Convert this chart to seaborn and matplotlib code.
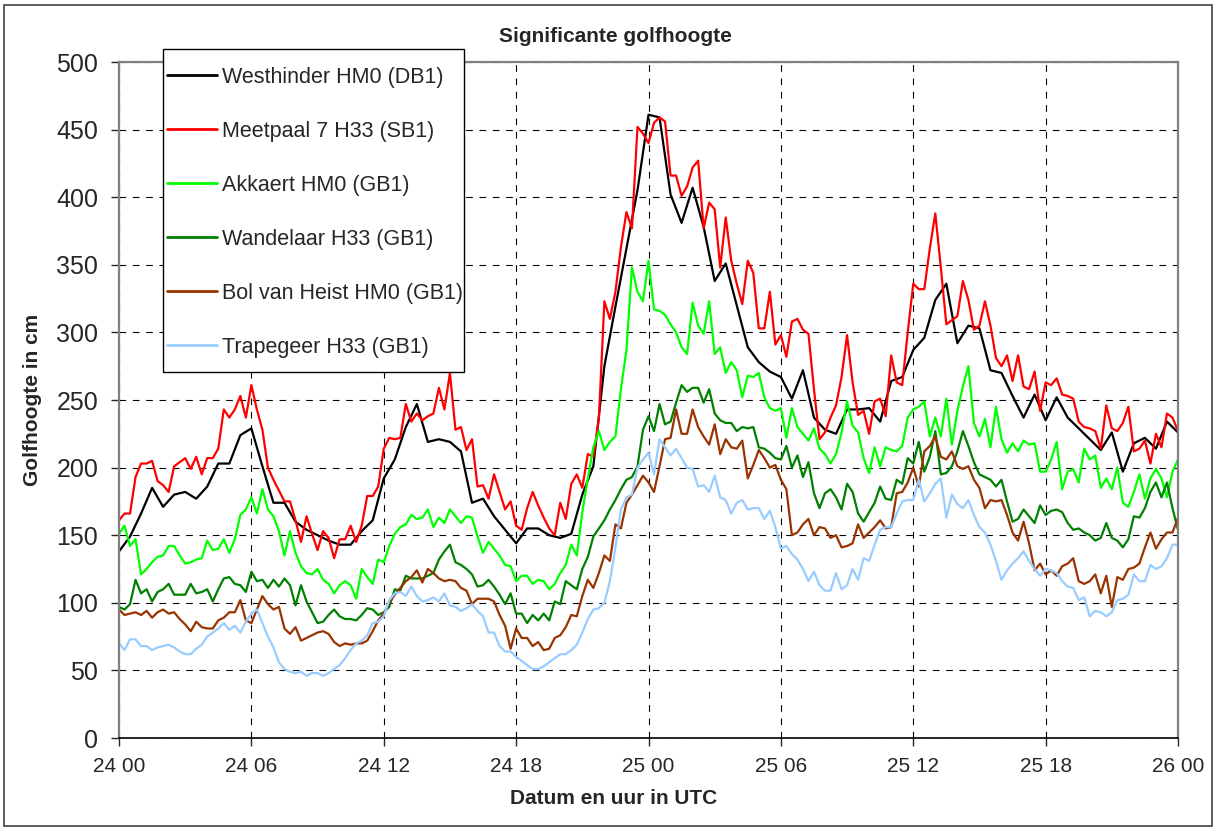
import numpy as np
import pandas as pd
import matplotlib
matplotlib.use("Agg")
import matplotlib.pyplot as plt
import seaborn as sns
from matplotlib.lines import Line2D
from matplotlib.patches import Rectangle

# tijd in uren vanaf 24 00 UTC
uur_halfuur = np.arange(0, 48.01, 0.5)
uur_kwartier = np.arange(0, 48.01, 0.25)

# Westhinder: halfuurwaarden
westhinder = [138, 149, 166, 185, 171, 180, 182, 177, 186, 203,
              203, 224, 229, 201, 174, 174, 160, 154, 150, 146,
              143, 143, 153, 161, 192, 206, 230, 247, 219, 221,
              219, 212, 174, 177, 164, 154, 144, 155, 155, 150,
              148, 151, 180, 201, 275, 319, 362, 405, 461, 459,
              402, 381, 407, 378, 338, 351, 320, 289, 278, 271,
              267, 251, 272, 237, 228, 225, 243, 243, 244, 234,
              264, 267, 287, 296, 324, 336, 292, 305, 303, 272,
              270, 253, 237, 254, 235, 252, 237, 229, 221, 213,
              226, 197, 218, 222, 214, 234, 226]

# overige stations: kwartierwaarden
meetpaal7 = [161, 166, 166, 193, 203, 203, 205, 190,
             187, 182, 201, 204, 207, 199, 208, 195,
             207, 207, 214, 243, 237, 243, 253, 237,
             261, 243, 228, 200, 191, 183, 175, 175,
             161, 145, 164, 151, 139, 153, 148, 133,
             147, 147, 157, 145, 157, 179, 179, 186,
             214, 222, 221, 222, 247, 234, 240, 235,
             238, 240, 259, 243, 270, 228, 230, 213,
             221, 186, 187, 177, 195, 182, 169, 175,
             157, 154, 170, 182, 172, 163, 155, 150,
             174, 162, 188, 195, 185, 210, 208, 236,
             323, 310, 330, 363, 389, 377, 452, 447,
             440, 455, 459, 456, 416, 416, 401, 408,
             422, 427, 377, 396, 391, 348, 385, 353,
             336, 321, 353, 344, 303, 303, 330, 291,
             298, 282, 308, 310, 302, 299, 258, 221,
             226, 237, 246, 267, 298, 263, 239, 242,
             225, 249, 251, 238, 283, 263, 261, 300,
             336, 332, 332, 362, 388, 348, 306, 309,
             312, 338, 324, 302, 305, 323, 305, 281,
             275, 283, 264, 283, 260, 258, 271, 242,
             263, 261, 266, 254, 253, 251, 234, 230,
             229, 227, 214, 246, 229, 227, 233, 245,
             212, 214, 220, 203, 225, 215, 240, 237,
             227]

akkaert = [151, 157, 142, 147, 121, 125, 130, 134,
           135, 142, 142, 135, 129, 130, 132, 133,
           146, 139, 140, 147, 137, 147, 165, 169,
           178, 166, 184, 169, 164, 153, 135, 153,
           137, 127, 122, 121, 125, 117, 114, 107,
           113, 116, 113, 103, 125, 119, 114, 132,
           130, 142, 151, 156, 158, 165, 162, 163,
           169, 156, 163, 159, 169, 164, 159, 164,
           163, 149, 137, 145, 140, 135, 128, 127,
           116, 120, 120, 114, 117, 116, 110, 114,
           122, 128, 143, 135, 167, 192, 215, 227,
           213, 219, 223, 258, 287, 348, 330, 323,
           353, 317, 316, 313, 306, 300, 289, 284,
           322, 305, 299, 323, 284, 289, 270, 278,
           272, 252, 268, 267, 270, 252, 244, 242,
           244, 222, 244, 230, 225, 220, 229, 214,
           210, 203, 210, 226, 249, 231, 226, 207,
           196, 215, 201, 215, 213, 212, 216, 237,
           243, 245, 249, 223, 237, 223, 251, 217,
           242, 260, 275, 233, 223, 236, 215, 245,
           221, 211, 218, 212, 220, 217, 218, 197,
           197, 206, 219, 184, 197, 199, 189, 214,
           206, 209, 185, 192, 184, 200, 174, 171,
           182, 195, 177, 192, 199, 192, 178, 197,
           206]

wandelaar = [97, 95, 99, 117, 107, 110, 101, 108,
             110, 114, 106, 106, 106, 114, 107, 108,
             110, 101, 110, 118, 119, 114, 113, 108,
             123, 116, 117, 111, 117, 112, 118, 113,
             98, 113, 101, 93, 85, 86, 91, 95,
             90, 88, 88, 87, 91, 96, 95, 91,
             93, 97, 110, 109, 120, 118, 118, 118,
             120, 122, 132, 138, 143, 130, 128, 125,
             121, 112, 113, 117, 112, 106, 99, 107,
             92, 92, 85, 91, 87, 92, 87, 101,
             99, 116, 113, 110, 125, 134, 149, 155,
             161, 169, 176, 184, 191, 193, 201, 228,
             238, 227, 247, 232, 234, 248, 261, 256,
             259, 259, 248, 258, 240, 235, 233, 233,
             227, 230, 229, 230, 215, 214, 211, 207,
             206, 216, 200, 209, 193, 204, 181, 170,
             181, 184, 178, 169, 188, 182, 166, 160,
             167, 174, 186, 177, 176, 191, 188, 207,
             203, 219, 197, 208, 227, 195, 196, 201,
             212, 227, 216, 204, 195, 193, 191, 186,
             191, 175, 160, 162, 169, 164, 159, 172,
             165, 168, 169, 167, 159, 154, 155, 152,
             150, 146, 148, 159, 148, 146, 141, 147,
             164, 163, 170, 182, 189, 178, 189, 170,
             154]

bol_van_heist = [95, 91, 92, 93, 91, 94, 89, 93,
                 95, 92, 93, 88, 84, 79, 86, 82,
                 81, 81, 87, 89, 93, 93, 102, 87,
                 85, 95, 105, 99, 95, 97, 81, 77,
                 82, 72, 74, 76, 78, 79, 77, 71,
                 68, 70, 69, 70, 70, 72, 79, 87,
                 92, 100, 106, 111, 116, 119, 124, 115,
                 125, 122, 118, 116, 117, 116, 111, 109,
                 99, 103, 103, 103, 101, 91, 83, 66,
                 81, 74, 74, 68, 71, 65, 66, 74,
                 76, 82, 91, 90, 105, 117, 111, 122,
                 135, 131, 158, 155, 174, 180, 187, 194,
                 189, 182, 201, 221, 222, 243, 225, 225,
                 243, 230, 223, 217, 232, 210, 221, 215,
                 214, 220, 192, 202, 213, 207, 200, 202,
                 191, 184, 150, 152, 158, 162, 150, 156,
                 155, 148, 150, 141, 142, 144, 158, 148,
                 152, 156, 161, 155, 156, 181, 182, 189,
                 200, 186, 212, 216, 223, 208, 206, 212,
                 201, 199, 201, 191, 185, 170, 176, 175,
                 176, 165, 152, 146, 160, 144, 124, 129,
                 121, 124, 120, 127, 129, 133, 116, 114,
                 116, 121, 107, 120, 97, 119, 117, 125,
                 126, 129, 141, 152, 140, 147, 152, 152,
                 163]

trapegeer = [70, 65, 73, 73, 68, 68, 65, 67,
             68, 69, 67, 64, 62, 62, 66, 69,
             75, 78, 81, 85, 80, 83, 78, 86,
             92, 95, 85, 75, 67, 56, 51, 49,
             48, 49, 46, 48, 48, 46, 48, 51,
             54, 59, 65, 70, 72, 76, 85, 86,
             90, 102, 107, 108, 105, 112, 105, 101,
             102, 104, 101, 107, 98, 97, 94, 96,
             99, 94, 90, 78, 78, 68, 64, 64,
             60, 57, 54, 51, 51, 53, 56, 59,
             62, 62, 65, 69, 78, 88, 95, 96,
             100, 116, 141, 169, 178, 180, 200, 206,
             211, 195, 221, 215, 209, 214, 207, 200,
             199, 186, 187, 182, 194, 178, 176, 166,
             174, 176, 169, 170, 170, 162, 168, 156,
             140, 142, 136, 132, 125, 116, 123, 113,
             109, 109, 122, 110, 113, 125, 117, 133,
             131, 143, 154, 156, 156, 166, 175, 176,
             176, 191, 175, 181, 188, 192, 163, 180,
             173, 170, 176, 165, 156, 152, 143, 131,
             117, 124, 129, 133, 138, 131, 125, 120,
             125, 124, 122, 116, 112, 111, 102, 104,
             90, 94, 93, 90, 93, 102, 103, 106,
             121, 116, 116, 128, 125, 127, 133, 143,
             143]

reeksen = ["Westhinder HM0 (DB1)", "Meetpaal 7 H33 (SB1)", "Akkaert HM0 (GB1)",
           "Wandelaar H33 (GB1)", "Bol van Heist HM0 (GB1)", "Trapegeer H33 (GB1)"]
kleuren = ["#000000", "#FF0000", "#00FF00", "#008000", "#993300", "#99CCFF"]
x_ticks = [0, 6, 12, 18, 24, 30, 36, 42, 48]
x_labels = ["24 00", "24 06", "24 12", "24 18", "25 00", "25 06", "25 12", "25 18", "26 00"]

frames = [pd.DataFrame({"uur": uur_halfuur, "cm": westhinder, "reeks": reeksen[0]})]
for naam, waarden in zip(reeksen[1:], [meetpaal7, akkaert, wandelaar, bol_van_heist, trapegeer]):
    frames.append(pd.DataFrame({"uur": uur_kwartier, "cm": waarden, "reeks": naam}))
df = pd.concat(frames, ignore_index=True)

sns.set_style("white")
plt.rcParams["font.family"] = ["Liberation Sans", "DejaVu Sans"]

W, H = 1216, 827
fig = plt.figure(figsize=(W / 100, H / 100), dpi=100)
ax = fig.add_axes([119 / W, (H - 738) / H, 1059 / W, 676 / H])

sns.lineplot(data=df, x="uur", y="cm", hue="reeks", hue_order=reeksen,
             palette=kleuren, estimator=None, sort=False, linewidth=1.6,
             legend=False, ax=ax)

ax.set_xlim(0, 48)
ax.set_ylim(0, 500)
ax.set_xticks(x_ticks)
ax.set_xticklabels(x_labels, fontsize=15)
ax.set_yticks(range(0, 501, 50))
ax.tick_params(axis="y", labelsize=18, length=6, width=1, direction="out", left=True, pad=9)
ax.tick_params(axis="x", length=6, width=1, direction="out", bottom=True, pad=8)
ax.grid(True, color="black", linestyle=(0, (6, 6)), linewidth=0.8)
ax.set_xlabel("")
ax.set_ylabel("")
for side in ["top", "right", "left"]:
    ax.spines[side].set_color("#808080")
    ax.spines[side].set_linewidth(1.6)
ax.spines["bottom"].set_color("black")
ax.spines["bottom"].set_linewidth(1.2)

fig.text(615 / W, 1 - 36 / H, "Significante golfhoogte", ha="center", va="center",
         fontsize=15, fontweight="bold")
fig.text(614 / W, 1 - 799 / H, "Datum en uur in UTC", ha="center", va="center",
         fontsize=15, fontweight="bold")
fig.text(33 / W, 1 - 400 / H, "Golfhoogte in cm", ha="center", va="center",
         rotation=90, fontsize=15, fontweight="bold")

# kader rond de legende
fig.patches.append(Rectangle((163 / W, 1 - 372 / H), 301 / W, 323 / H,
                             transform=fig.transFigure, facecolor="white",
                             edgecolor="black", linewidth=1.0, zorder=5))
handles = [Line2D([0], [0], color=c, linewidth=2) for c in kleuren]
leg = fig.legend(handles, reeksen, loc="upper left", bbox_to_anchor=(167 / W, 1 - 67 / H),
                 frameon=False, fontsize=15.5, handlelength=2.3, handletextpad=0.25,
                 labelspacing=1.53, borderpad=0, borderaxespad=0)
leg.set_zorder(6)

# kader rond de hele grafiek
fig.patches.append(Rectangle((4 / W, 1 / H), 1208 / W, 821 / H, transform=fig.transFigure,
                             fill=False, edgecolor="#404040", linewidth=1.2))

fig.savefig("out.png", dpi=100)
